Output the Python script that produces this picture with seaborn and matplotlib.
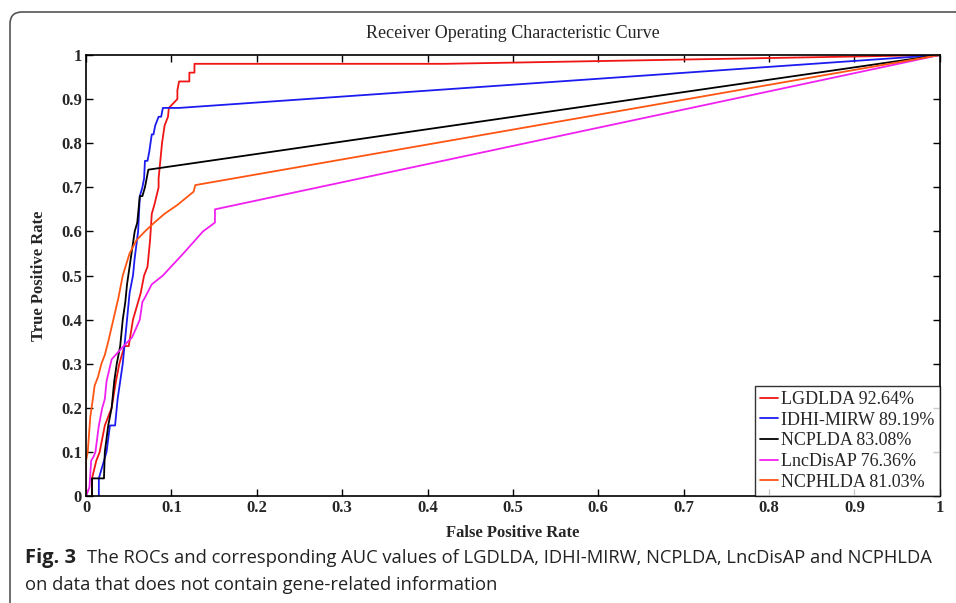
# ROC curves of five lncRNA-disease association methods

import pandas as pd
import numpy as np
import seaborn as sns
import matplotlib.pyplot as plt
from matplotlib.patches import FancyBboxPatch

# data
methods = ['LGDLDA 92.64%', 'IDHI-MIRW 89.19%', 'NCPLDA 83.08%', 'LncDisAP 76.36%', 'NCPHLDA 81.03%']

lgdlda_fpr = [0.007, 0.007, 0.012, 0.016, 0.022, 0.030, 0.035, 0.039, 0.045, 0.050,
              0.055, 0.058, 0.064, 0.068, 0.072, 0.075, 0.077, 0.080, 0.085, 0.085,
              0.089, 0.092, 0.096, 0.097, 0.107, 0.107, 0.109, 0.121, 0.121, 0.127,
              0.127, 0.42, 1.0]
lgdlda_tpr = [0.0, 0.04, 0.08, 0.10, 0.16, 0.20, 0.26, 0.30, 0.34, 0.34,
              0.40, 0.42, 0.46, 0.50, 0.52, 0.58, 0.64, 0.66, 0.70, 0.72,
              0.80, 0.84, 0.86, 0.88, 0.90, 0.92, 0.94, 0.94, 0.96, 0.96,
              0.98, 0.98, 1.0]

idhi_fpr = [0.015, 0.015, 0.018, 0.024, 0.028, 0.034, 0.037, 0.040, 0.043, 0.046,
            0.048, 0.051, 0.055, 0.057, 0.061, 0.063, 0.066, 0.068, 0.069, 0.072,
            0.074, 0.077, 0.079, 0.081, 0.085, 0.088, 0.090, 0.109, 1.0]
idhi_tpr = [0.0, 0.04, 0.06, 0.10, 0.16, 0.16, 0.22, 0.26, 0.30, 0.36,
            0.40, 0.46, 0.50, 0.54, 0.60, 0.68, 0.70, 0.72, 0.76, 0.76,
            0.78, 0.82, 0.82, 0.84, 0.86, 0.86, 0.88, 0.88, 1.0]

ncplda_fpr = [0.007, 0.007, 0.021, 0.022, 0.026, 0.030, 0.033, 0.036, 0.040, 0.043,
              0.046, 0.048, 0.051, 0.054, 0.057, 0.060, 0.063, 0.066, 0.069, 0.071,
              0.073, 1.0]
ncplda_tpr = [0.0, 0.04, 0.04, 0.10, 0.16, 0.20, 0.26, 0.30, 0.34, 0.40,
              0.44, 0.48, 0.52, 0.56, 0.60, 0.62, 0.68, 0.68, 0.70, 0.72,
              0.74, 1.0]

lncdisap_fpr = [0.0, 0.004, 0.006, 0.009, 0.011, 0.015, 0.019, 0.022, 0.024, 0.030,
                0.044, 0.054, 0.063, 0.066, 0.069, 0.077, 0.090, 0.114, 0.137, 0.151,
                0.151, 1.0]
lncdisap_tpr = [0.0, 0.02, 0.08, 0.09, 0.10, 0.16, 0.20, 0.22, 0.26, 0.31,
                0.34, 0.36, 0.40, 0.44, 0.45, 0.48, 0.50, 0.55, 0.60, 0.62,
                0.65, 1.0]

ncphlda_fpr = [0.0, 0.0, 0.002, 0.005, 0.008, 0.010, 0.014, 0.018, 0.022, 0.026,
               0.032, 0.038, 0.043, 0.051, 0.059, 0.069, 0.080, 0.092, 0.107, 0.126,
               0.128, 1.0]
ncphlda_tpr = [0.0, 0.08, 0.10, 0.18, 0.22, 0.25, 0.27, 0.30, 0.32, 0.35,
               0.40, 0.45, 0.50, 0.55, 0.58, 0.60, 0.62, 0.64, 0.66, 0.69,
               0.705, 1.0]

ticks = [0, 0.1, 0.2, 0.3, 0.4, 0.5, 0.6, 0.7, 0.8, 0.9, 1]
tick_labels = ['0', '0.1', '0.2', '0.3', '0.4', '0.5', '0.6', '0.7', '0.8', '0.9', '1']

colors = ['#f01515', '#1c1cf0', '#000000', '#f020f0', '#ff5512']

# build long-form table
curves = [(lgdlda_fpr, lgdlda_tpr), (idhi_fpr, idhi_tpr), (ncplda_fpr, ncplda_tpr),
          (lncdisap_fpr, lncdisap_tpr), (ncphlda_fpr, ncphlda_tpr)]
frames = []
for name, (f, t) in zip(methods, curves):
    frames.append(pd.DataFrame({'fpr': f, 'tpr': t, 'method': name}))
df = pd.concat(frames, ignore_index=True)

sns.set_theme(style='white')
plt.rcParams['font.family'] = ['Liberation Serif', 'DejaVu Serif']

fig = plt.figure(figsize=(9.56, 6.03), dpi=100)
ax = fig.add_axes([0.090, 0.1774, 0.893, 0.7314])

sns.lineplot(data=df, x='fpr', y='tpr', hue='method', hue_order=methods,
             palette=colors, sort=False, estimator=None, units='method',
             linewidth=1.3, ax=ax)

ax.set_xlim(0, 1)
ax.set_ylim(0, 1)
ax.set_xticks(ticks)
ax.set_xticklabels(tick_labels, fontsize=12, fontweight='bold')
ax.set_yticks(ticks)
ax.set_yticklabels(tick_labels, fontsize=12, fontweight='bold')
ax.tick_params(direction='in', length=5, width=1, color='black',
               top=True, right=True, bottom=True, left=True, pad=3)
for s in ax.spines.values():
    s.set_color('black')
    s.set_linewidth(1.2)

ax.set_xlabel('False Positive Rate', fontsize=12, fontweight='bold', labelpad=6)
ax.set_ylabel('True Positive Rate', fontsize=12, fontweight='bold', labelpad=10)
ax.set_title('Receiver Operating Characteristic Curve', fontsize=13, pad=12)

leg = ax.legend(loc='lower right', borderaxespad=0, fontsize=13, frameon=True,
                fancybox=False, edgecolor='black', handlelength=1.0,
                handletextpad=0.15, labelspacing=0.2, borderpad=0.3)
leg.get_frame().set_linewidth(1.0)
for line in leg.get_lines():
    line.set_linewidth(1.3)

# the page frame around the figure
frame = FancyBboxPatch((0.10, -0.5), 10, 6.41, boxstyle='round,pad=0,rounding_size=0.12',
                       transform=fig.dpi_scale_trans, facecolor='none',
                       edgecolor='#555555', linewidth=1.2)
fig.patches.append(frame)

# caption
cap_font = ['Open Sans', 'DejaVu Sans']
cap = fig.text(25 / 956, 1 - 558 / 603, 'Fig. 3', fontsize=14.5, fontweight='bold',
               family=cap_font, va='center', color='#222222')
ax.annotate('The ROCs and corresponding AUC values of LGDLDA, IDHI-MIRW, NCPLDA, LncDisAP and NCPHLDA',
            xy=(1, 0.5), xycoords=cap, xytext=(8, 0), textcoords='offset points',
            fontsize=13.2, family=cap_font, va='center', color='#222222',
            annotation_clip=False)
fig.text(25 / 956, 1 - 585 / 603, 'on data that does not contain gene-related information',
         fontsize=13.2, family=cap_font, va='center', color='#222222')

fig.savefig('out.png', dpi=100)
